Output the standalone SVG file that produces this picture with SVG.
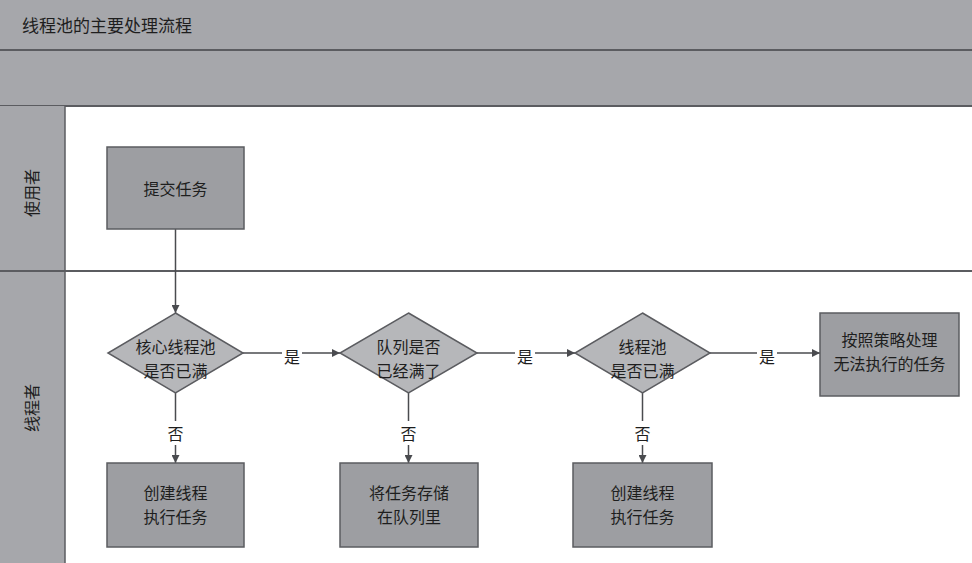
<svg xmlns="http://www.w3.org/2000/svg" width="972" height="563" viewBox="0 0 972 563">
<style>
text{font-family:"Noto Sans CJK SC","Noto Sans",sans-serif;fill:#1e1e1e;}
.band{fill:#a6a7ab;}
.ln{stroke:#5b5c60;stroke-width:2;fill:none;}
.box{fill:#9d9ea2;stroke:#5b5c60;stroke-width:1.5;}
.dia{fill:#b6b7ba;stroke:#5b5c60;stroke-width:1.5;}
.t{font-size:16px;text-anchor:middle;dominant-baseline:central;}
.c{stroke:#4a4b4f;stroke-width:1.5;fill:none;}
.lbl{font-size:16px;text-anchor:middle;dominant-baseline:central;}
</style>
<defs>
<marker id="ah" viewBox="0 0 10 10" refX="10" refY="5" markerWidth="8" markerHeight="8" markerUnits="userSpaceOnUse" orient="auto">
<path d="M0,0 L10,5 L0,10 z" fill="#4a4b4f"/>
</marker>
</defs>
<rect width="972" height="563" fill="#ffffff"/>
<g id="header">
<rect class="band" x="0" y="0" width="972" height="106"/>
<line class="ln" x1="0" y1="50" x2="972" y2="50"/>
<line class="ln" x1="0" y1="106" x2="972" y2="106"/>
<text x="22" y="24" font-size="17" dominant-baseline="central">线程池的主要处理流程</text>
</g>
<g id="lanes">
<rect class="band" x="0" y="106" width="65" height="457"/>
<line x1="65" y1="106" x2="65" y2="563" stroke="#5b5c60" stroke-width="1.5"/>
<line class="ln" x1="0" y1="271" x2="972" y2="271"/>
<text class="t" transform="translate(31,193) rotate(-90)">使用者</text>
<text class="t" transform="translate(31,408) rotate(-90)">线程者</text>
</g>
<g id="connectors">
<line class="c" x1="175.5" y1="229" x2="175.5" y2="313" marker-end="url(#ah)"/>
<line class="c" x1="243" y1="353" x2="282" y2="353"/>
<text class="lbl" x="292" y="356">是</text>
<line class="c" x1="302" y1="353" x2="340" y2="353" marker-end="url(#ah)"/>
<line class="c" x1="477" y1="353" x2="515" y2="353"/>
<text class="lbl" x="525" y="356">是</text>
<line class="c" x1="535" y1="353" x2="575" y2="353" marker-end="url(#ah)"/>
<line class="c" x1="710" y1="353" x2="757" y2="353"/>
<text class="lbl" x="767" y="356">是</text>
<line class="c" x1="777" y1="353" x2="820" y2="353" marker-end="url(#ah)"/>
<line class="c" x1="175.5" y1="393" x2="175.5" y2="421"/>
<text class="lbl" x="175.5" y="433">否</text>
<line class="c" x1="175.5" y1="445" x2="175.5" y2="463" marker-end="url(#ah)"/>
<line class="c" x1="408.5" y1="393" x2="408.5" y2="421"/>
<text class="lbl" x="408.5" y="433">否</text>
<line class="c" x1="408.5" y1="445" x2="408.5" y2="463" marker-end="url(#ah)"/>
<line class="c" x1="642.5" y1="393" x2="642.5" y2="421"/>
<text class="lbl" x="642.5" y="433">否</text>
<line class="c" x1="642.5" y1="445" x2="642.5" y2="463" marker-end="url(#ah)"/>
</g>
<g id="submit">
<rect class="box" x="107" y="147" width="137" height="82"/>
<text class="t" x="175.5" y="188" font-size="17">提交任务</text>
</g>
<g id="d1">
<polygon class="dia" points="175.5,313 243,353 175.5,393 108,353"/>
<text class="t" x="175.5" y="346">核心线程池</text>
<text class="t" x="175.5" y="370">是否已满</text>
</g>
<g id="d2">
<polygon class="dia" points="408.5,313 477,353 408.5,393 340,353"/>
<text class="t" x="408.5" y="346">队列是否</text>
<text class="t" x="408.5" y="370">已经满了</text>
</g>
<g id="d3">
<polygon class="dia" points="642.5,313 710,353 642.5,393 575,353"/>
<text class="t" x="642.5" y="346">线程池</text>
<text class="t" x="642.5" y="370">是否已满</text>
</g>
<g id="reject">
<rect class="box" x="820" y="313" width="139" height="83"/>
<text class="t" x="889.5" y="339">按照策略处理</text>
<text class="t" x="889.5" y="363">无法执行的任务</text>
</g>
<g id="b1">
<rect class="box" x="107" y="463" width="137" height="84"/>
<text class="t" x="175.5" y="492">创建线程</text>
<text class="t" x="175.5" y="516">执行任务</text>
</g>
<g id="b2">
<rect class="box" x="340" y="463" width="138" height="84"/>
<text class="t" x="409" y="492">将任务存储</text>
<text class="t" x="409" y="516">在队列里</text>
</g>
<g id="b3">
<rect class="box" x="573" y="463" width="139" height="84"/>
<text class="t" x="642.5" y="492">创建线程</text>
<text class="t" x="642.5" y="516">执行任务</text>
</g>
</svg>
